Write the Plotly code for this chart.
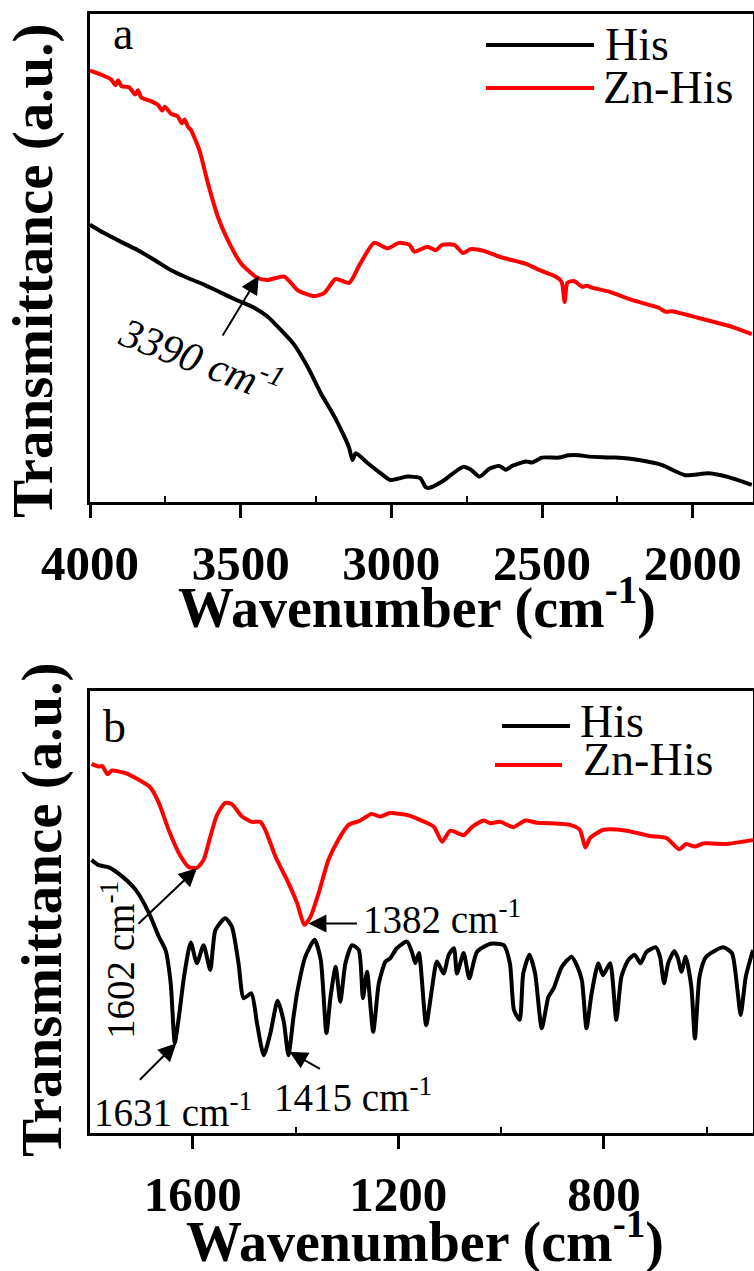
import plotly.graph_objects as go

W, H = 754, 1271
FONT = "Liberation Serif"

# ---------------- Panel a data (wavenumber, transmittance a.u.) ----------------
a_his_wn = [4000, 3953, 3897, 3841, 3786, 3731, 3675, 3620, 3566, 3510, 3455, 3411,
            3366, 3322, 3278, 3234, 3189, 3156, 3140, 3129, 3118, 3079, 3036, 3003,
            2970, 2947, 2904, 2887, 2874, 2831, 2762, 2736, 2707, 2675, 2642, 2620,
            2599, 2553, 2533, 2500, 2444, 2411, 2377, 2344, 2256, 2179, 2103, 2025,
            1947, 1881, 1804]
a_his_t = [56.8, 55.1, 53.3, 51.6, 49.6, 47.5, 45.9, 44.5, 42.9, 41.3, 39.8, 38.0,
           35.2, 32.2, 27.7, 22.3, 17.5, 13.4, 11.1, 8.6, 10.0, 8.0, 5.9, 4.5,
           4.9, 5.2, 4.9, 3.1, 2.9, 4.2, 7.2, 6.6, 5.2, 6.8, 7.4, 6.6,
           7.4, 8.3, 8.1, 9.1, 9.1, 9.6, 9.6, 9.3, 9.1, 8.6, 7.6, 5.5,
           5.9, 5.1, 3.5]

a_zn_wn = [4000, 3960, 3930, 3915, 3907, 3895, 3870, 3850, 3841, 3830, 3800, 3775,
           3760, 3752, 3730, 3710, 3695, 3686, 3675, 3665, 3637, 3609, 3576, 3543,
           3500, 3444, 3411, 3355, 3311, 3256, 3223, 3185, 3140, 3102, 3057, 3013,
           2974, 2940, 2924, 2881, 2852, 2831, 2791, 2762, 2738, 2695, 2639, 2553,
           2508, 2455, 2435, 2425, 2416, 2394, 2367, 2351, 2334, 2278, 2202, 2113,
           2090, 2069, 1980, 1870, 1804]
a_zn_t = [88.4, 87.5, 86.6, 85.4, 86.4, 85.2, 85.0, 83.5, 84.4, 82.9, 82.2, 81.4,
          80.2, 81.0, 79.5, 79.1, 77.6, 78.4, 76.9, 76.2, 72.1, 65.4, 58.5, 53.7,
          49.0, 45.9, 45.5, 46.2, 43.4, 42.2, 42.8, 45.7, 44.9, 49.0, 53.1, 52.0,
          53.1, 52.7, 51.3, 52.3, 51.6, 52.7, 52.7, 51.0, 51.8, 51.5, 50.2, 48.8,
          47.5, 46.2, 45.1, 41.0, 44.9, 45.3, 44.1, 44.3, 43.9, 43.1, 41.4, 39.8,
          39.0, 39.1, 37.7, 35.9, 34.4]

# ---------------- Panel b data ----------------
b_his_wn = [1797, 1783, 1763, 1737, 1711, 1685, 1666, 1653, 1643, 1635, 1627, 1617,
            1604, 1592, 1579, 1566, 1556, 1537, 1524, 1511, 1501, 1486, 1475, 1462,
            1449, 1435, 1423, 1414, 1404, 1397, 1381, 1363, 1351, 1340, 1332, 1322,
            1313, 1303, 1290, 1277, 1269, 1261, 1249, 1238, 1225, 1216, 1203, 1183,
            1173, 1167, 1160, 1146, 1135, 1125, 1112, 1102, 1092, 1086, 1073, 1062,
            1047, 1021, 995, 983, 975, 964, 957, 945, 934, 921, 908, 898,
            882, 863, 853, 843, 834, 824, 811, 802, 788, 776, 766, 753,
            740, 729, 717, 699, 691, 683, 675, 663, 656, 649, 641, 630,
            623, 614, 601, 568, 551, 541, 534, 524, 510]
b_his_t = [61.8, 60.6, 60.1, 58.0, 55.0, 49.7, 44.4, 41.4, 33.9, 20.4, 26.3, 35.4,
           43.1, 38.4, 42.5, 36.9, 45.9, 48.6, 46.7, 38.4, 30.5, 31.6, 24.8, 17.6,
           22.6, 29.9, 25.2, 17.6, 26.3, 31.7, 39.9, 43.7, 39.1, 22.6, 30.8, 37.6,
           29.7, 38.4, 42.5, 41.4, 30.5, 36.5, 22.9, 33.9, 38.8, 39.5, 41.8, 43.3,
           40.7, 38.4, 40.7, 24.4, 32.4, 38.8, 36.1, 40.3, 41.8, 36.1, 40.7, 35.0,
           41.0, 42.8, 42.5, 38.4, 27.8, 25.6, 36.1, 40.3, 36.1, 23.7, 30.8, 32.7,
           37.6, 39.9, 38.0, 34.6, 23.7, 31.6, 38.4, 35.7, 38.4, 25.6, 35.4, 39.1,
           40.3, 38.4, 41.0, 42.0, 39.9, 33.9, 38.4, 41.2, 39.5, 36.5, 39.9, 33.1,
           21.4, 35.4, 39.9, 42.0, 40.7, 33.1, 26.7, 35.4, 41.4]

b_zn_wn = [1797, 1783, 1776, 1766, 1757, 1731, 1705, 1682, 1666, 1647, 1627, 1608,
           1592, 1579, 1566, 1553, 1537, 1524, 1504, 1485, 1469, 1459, 1439, 1414,
           1397, 1383, 1371, 1355, 1336, 1317, 1297, 1274, 1252, 1236, 1216, 1181,
           1157, 1131, 1115, 1099, 1073, 1057, 1034, 1021, 1002, 976, 953, 931,
           905, 866, 847, 836, 827, 801, 756, 711, 678, 654, 640, 623,
           607, 562, 530, 510]
b_zn_t = [83.5, 82.9, 83.0, 81.2, 82.0, 81.4, 79.9, 78.1, 74.7, 68.6, 63.3, 60.2,
          60.0, 61.8, 67.0, 71.9, 74.7, 74.4, 71.6, 70.4, 70.4, 68.6, 62.5, 56.6,
          52.0, 47.1, 48.9, 54.3, 61.8, 66.3, 69.7, 70.7, 72.2, 71.6, 72.4, 71.9,
          70.8, 69.3, 65.9, 68.4, 67.4, 69.2, 70.7, 70.1, 70.4, 69.2, 70.7, 70.2,
          70.1, 69.7, 68.6, 64.6, 66.7, 68.6, 68.4, 67.2, 66.7, 64.2, 65.4, 64.8,
          65.5, 65.4, 65.9, 66.3]

a_ticks = [4000, 3500, 3000, 2500, 2000]
a_minor = [3750, 3250, 2750, 2250]
b_ticks = [1600, 1200, 800]
b_minor = [1400, 1000, 600]
series_names = ["His", "Zn-His"]
colors = ["black", "#ff0000"]


def px(x):
    return x / W


def py(y):
    return 1 - y / H


fig = go.Figure()
lw = 4
for wn, t, c, xa, ya in [
    (a_his_wn, a_his_t, colors[0], "x", "y"),
    (a_zn_wn, a_zn_t, colors[1], "x", "y"),
    (b_his_wn, b_his_t, colors[0], "x2", "y2"),
    (b_zn_wn, b_zn_t, colors[1], "x2", "y2"),
]:
    fig.add_trace(go.Scatter(x=wn, y=t, mode="lines", xaxis=xa, yaxis=ya,
                             line=dict(color=c, width=lw, shape="spline", smoothing=0.6),
                             showlegend=False, hoverinfo="skip"))

tickfont = dict(family=FONT, size=49, color="black", weight="bold")
common_x = dict(showline=True, linewidth=3, linecolor="black", mirror=True,
                ticks="outside", ticklen=13, tickwidth=3, tickcolor="black",
                showgrid=False, zeroline=False, tickfont=tickfont, automargin=False,
                ticklabelstandoff=3)
common_y = dict(showline=True, linewidth=3, linecolor="black", mirror=True,
                ticks="", showticklabels=False, showgrid=False, zeroline=False,
                range=[0, 100], automargin=False)
top_x = dict(ticks="inside", ticklen=6, tickwidth=2, tickcolor="black",
             showticklabels=False, showgrid=False, zeroline=False, showline=False,
             automargin=False)

xd = [px(90), px(753)]
fig.update_layout(
    width=W, height=H, margin=dict(l=0, r=0, t=0, b=0, autoexpand=False),
    paper_bgcolor="white", plot_bgcolor="white", showlegend=False,
    xaxis=dict(domain=xd, range=[4000, 1800], anchor="y", tickvals=a_ticks,
               minor=dict(ticks="inside", ticklen=6, tickwidth=2, tickcolor="black", tickvals=a_minor),
               **common_x),
    yaxis=dict(domain=[py(502), py(14)], anchor="x", **common_y),
    xaxis2=dict(domain=xd, range=[1800, 510], anchor="y2", tickvals=b_ticks,
                minor=dict(ticks="inside", ticklen=6, tickwidth=2, tickcolor="black", tickvals=b_minor),
                **common_x),
    yaxis2=dict(domain=[py(1133), py(691)], anchor="x2", **common_y),
    xaxis3=dict(overlaying="x", anchor="y", side="top", range=[4000, 1800],
                tickvals=a_minor, **top_x),
    xaxis4=dict(overlaying="x2", anchor="y2", side="top", range=[1800, 510],
                tickvals=b_minor, **top_x),
)

ann = []
xtitle_font = dict(family=FONT, size=56, color="black", weight="bold")
ytitle_font = dict(family=FONT, size=57, color="black", weight="bold")
# axis titles
ann.append(dict(text="Wavenumber (cm<sup>-1</sup>)", x=px(417), y=py(604), xref="paper", yref="paper",
                xanchor="center", yanchor="middle", showarrow=False, font=xtitle_font))
ann.append(dict(text="Wavenumber (cm<sup>-1</sup>)", x=px(425), y=py(1238), xref="paper", yref="paper",
                xanchor="center", yanchor="middle", showarrow=False, font=xtitle_font))
ann.append(dict(text="Transmittance (a.u.)", x=px(33), y=py(271), xref="paper", yref="paper",
                xanchor="center", yanchor="middle", textangle=-90, showarrow=False, font=ytitle_font))
ann.append(dict(text="Transmittance (a.u.)", x=px(42), y=py(910), xref="paper", yref="paper",
                xanchor="center", yanchor="middle", textangle=-90, showarrow=False, font=ytitle_font))

leg_font = dict(family=FONT, size=46, color="black")
# panel letters
ann.append(dict(text="a", x=px(111), y=py(34), xref="paper", yref="paper", xanchor="left",
                yanchor="middle", showarrow=False, font=leg_font))
ann.append(dict(text="b", x=px(101), y=py(726), xref="paper", yref="paper", xanchor="left",
                yanchor="middle", showarrow=False, font=leg_font))

# legends (lines + labels)
shapes = []
for (x0, x1, yl, tx, ty), name, c in zip(
        [(486, 594, 45, 603, 44), (486, 594, 88, 601, 87)], series_names, colors):
    shapes.append(dict(type="line", xref="paper", yref="paper", x0=px(x0), x1=px(x1),
                       y0=py(yl), y1=py(yl), line=dict(color=c, width=lw)))
    ann.append(dict(text=name, x=px(tx), y=py(ty), xref="paper", yref="paper", xanchor="left",
                    yanchor="middle", showarrow=False, font=leg_font))
for (x0, x1, yl, tx, ty), name, c in zip(
        [(502, 570, 726, 578, 721), (495, 562, 765, 581, 759)], series_names, colors):
    shapes.append(dict(type="line", xref="paper", yref="paper", x0=px(x0), x1=px(x1),
                       y0=py(yl), y1=py(yl), line=dict(color=c, width=lw)))
    ann.append(dict(text=name, x=px(tx), y=py(ty), xref="paper", yref="paper", xanchor="left",
                    yanchor="middle", showarrow=False, font=leg_font))

# peak arrows (tip in data coords, tail offset in px)
arrow_style = dict(showarrow=True, arrowhead=2, arrowsize=1.8, arrowwidth=2, arrowcolor="black", text="")
ann.append(dict(x=3440, y=46.3, xref="x", yref="y", ax=-37, ay=61, **arrow_style))
ann.append(dict(x=1592, y=59.9, xref="x2", yref="y2", ax=-60, ay=57, **arrow_style))
ann.append(dict(x=1375, y=47.4, xref="x2", yref="y2", ax=50, ay=0, **arrow_style))
ann.append(dict(x=1632, y=20.3, xref="x2", yref="y2", ax=-38, ay=38, **arrow_style))
ann.append(dict(x=1412, y=18.4, xref="x2", yref="y2", ax=32, ay=18, **arrow_style))

pk_font = dict(family=FONT, size=39, color="black")
ann.append(dict(text="<i>3390 cm<sup>-1</sup></i>", x=px(201), y=py(357), xref="paper", yref="paper",
                xanchor="center", yanchor="middle", textangle=21, showarrow=False,
                font=dict(family=FONT, size=42, color="black")))
ann.append(dict(text="1602 cm<sup>-1</sup>", x=px(118), y=py(960), xref="paper", yref="paper",
                xanchor="center", yanchor="middle", textangle=-90, showarrow=False, font=pk_font))
ann.append(dict(text="1382 cm<sup>-1</sup>", x=px(361), y=py(917), xref="paper", yref="paper",
                xanchor="left", yanchor="middle", showarrow=False, font=pk_font))
ann.append(dict(text="1631 cm<sup>-1</sup>", x=px(92), y=py(1110), xref="paper", yref="paper",
                xanchor="left", yanchor="middle", showarrow=False, font=pk_font))
ann.append(dict(text="1415 cm<sup>-1</sup>", x=px(272), y=py(1095), xref="paper", yref="paper",
                xanchor="left", yanchor="middle", showarrow=False, font=pk_font))

fig.update_layout(annotations=ann, shapes=shapes)
fig.write_html("out.html", config={"displayModeBar": False},
               post_script="document.body.style.margin='0';document.body.style.padding='0';"
                           "document.body.style.overflow='hidden';")
